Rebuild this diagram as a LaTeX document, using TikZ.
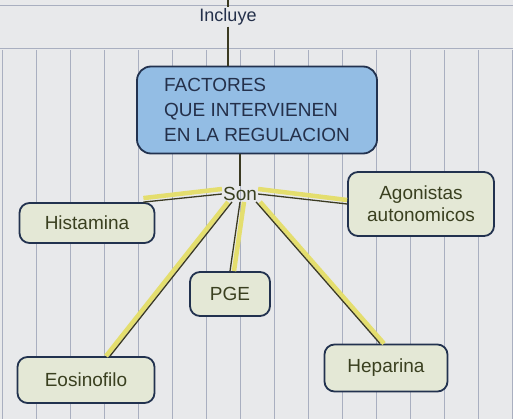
\documentclass[tikz,border=0pt]{standalone}
\usepackage{fontspec}
\setmainfont{Liberation Sans}
\begin{document}
\begin{tikzpicture}[x=1pt,y=-1pt,
  paperline/.style={draw=paperlc, line width=0.9pt},
  mainbox/.style={draw=navyc, line width=1.8pt, rounded corners=14pt, fill=bluec, text=textc, align=left, font=\fontsize{19}{25}\selectfont},
  leaf/.style={draw=navyc, line width=1.8pt, rounded corners=10pt, fill=leafc, text=leaftc, font=\fontsize{19}{22}\selectfont, align=center, inner sep=2pt},
  hl/.style={draw=yellowc, line width=4.5pt},
  conn/.style={draw=linec, line width=1.3pt}]
\definecolor{paperc}{HTML}{E8E9EB}
\definecolor{paperlc}{HTML}{A9AFC0}
\definecolor{navyc}{HTML}{22324F}
\definecolor{bluec}{HTML}{93BDE4}
\definecolor{leafc}{HTML}{E4E8D6}
\definecolor{textc}{HTML}{24304A}
\definecolor{leaftc}{HTML}{3A4020}
\definecolor{yellowc}{HTML}{E4DE6E}
\definecolor{linec}{HTML}{3B3A22}
\useasboundingbox (0,0) rectangle (513,419);
\fill[paperc] (0,0) rectangle (513,419);
\foreach \i in {0,...,15} {\draw[paperline] (2+34*\i,50) -- (2+34*\i,419);}
\draw[paperline] (0,5) -- (513,5);
\draw[paperline] (0,48) -- (513,48);
% nodes
\node[text=textc, font=\fontsize{18}{20}\selectfont, inner sep=1pt] (incl) at (228,17) {Incluye};
\node[mainbox, minimum width=240pt, minimum height=87pt] (main) at (257,110)
  {FACTORES\\QUE INTERVIENEN\\EN LA REGULACION};
\node[text=leaftc, font=\fontsize{19}{21}\selectfont, inner sep=1pt] (son) at (240,194) {Son};
\node[leaf, minimum width=135pt, minimum height=40pt] (hist) at (87,223) {Histamina};
\node[leaf, minimum width=146pt, minimum height=64pt] (agon) at (421,204) {Agonistas\\autonomicos};
\node[leaf, minimum width=80pt, minimum height=44pt] (pge) at (230,294) {PGE};
\node[leaf, minimum width=137pt, minimum height=46pt] (eos) at (86,380) {Eosinofilo};
\node[leaf, minimum width=123pt, minimum height=47pt] (hep) at (386,368) {Heparina};
% connectors
\coordinate (topend) at (228,0);
\draw[conn] (topend) -- (incl.north);
\draw[conn] (incl.south) -- (main.north -| incl.south);
\draw[conn] (main.south -| son.north) -- (son.north);
% highlights
\draw[hl] ([yshift=5pt]son.west) -- ([xshift=-12pt,yshift=4pt]hist.north east);
\draw[hl] ([yshift=5pt]son.east) -- ([yshift=4pt]agon.west);
\draw[hl] ([xshift=4pt]son.south) -- ([xshift=4pt]pge.north);
\draw[hl] ([xshift=-12pt]son.south) -- ([xshift=20pt]eos.north);
\draw[hl] ([xshift=2pt]son.south east) -- ([xshift=-2pt]hep.north);
% lines
\draw[conn] (son.west) -- ([xshift=-12pt]hist.north east);
\draw[conn] (son.east) -- (agon.west);
\draw[conn] (son.south) -- (pge.north);
\draw[conn] ([xshift=-8pt]son.south) -- ([xshift=24pt]eos.north);
\draw[conn] ([xshift=-2pt]son.south east) -- ([xshift=-6pt]hep.north);
\end{tikzpicture}
\end{document}
